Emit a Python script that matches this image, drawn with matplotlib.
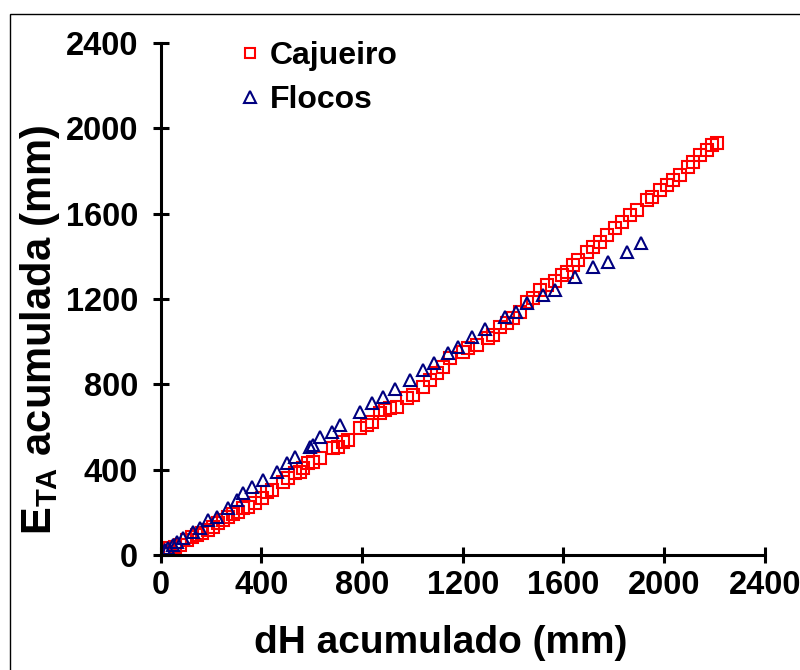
import matplotlib
matplotlib.use("Agg")
import matplotlib.pyplot as plt
from matplotlib.patches import Rectangle

# --- data ---
caj_x = [8, 16, 36, 56, 76, 103, 123, 143, 163, 187, 207, 227, 246, 266, 286,
         306, 326, 346, 374, 401, 421, 441, 485, 505, 533, 552, 564, 584, 604,
         632, 684, 703, 723, 743, 791, 819, 838, 870, 890, 910, 938, 978, 1001,
         1041, 1069, 1097, 1121, 1148, 1200, 1220, 1256, 1299, 1319, 1347, 1375,
         1399, 1427, 1455, 1478, 1506, 1534, 1566, 1594, 1613, 1637, 1657, 1693,
         1717, 1745, 1772, 1804, 1832, 1864, 1892, 1931, 1951, 1983, 2011, 2035,
         2063, 2094, 2114, 2142, 2170, 2190, 2210]
caj_y = [5, 14, 33, 38, 47, 70, 84, 94, 103, 117, 131, 150, 164, 178, 192,
         202, 220, 225, 244, 267, 295, 305, 342, 361, 384, 389, 408, 431, 436,
         455, 502, 506, 530, 539, 595, 609, 623, 666, 680, 689, 694, 736, 750,
         788, 820, 853, 881, 923, 952, 970, 984, 1017, 1031, 1069, 1088,
         1111, 1139, 1186, 1205, 1242, 1266, 1284, 1313, 1327, 1359, 1383, 1420,
         1444, 1467, 1500, 1533, 1561, 1594, 1617, 1664, 1678, 1711, 1734, 1758,
         1781, 1819, 1842, 1875, 1898, 1922, 1931]

flo_x = [16, 28, 48, 64, 87, 127, 155, 187, 223, 266, 302, 326, 362, 405, 461,
         501, 533, 592, 604, 632, 680, 711, 791, 838, 882, 930, 990, 1041, 1085,
         1141, 1180, 1236, 1288, 1367, 1411, 1455, 1518, 1566, 1645, 1717, 1776,
         1852, 1908]
flo_y = [23, 33, 47, 61, 80, 108, 127, 164, 178, 220, 258, 291, 319, 352, 389,
         431, 459, 506, 516, 553, 577, 609, 670, 713, 741, 778, 820, 867, 900,
         947, 975, 1022, 1059, 1116, 1139, 1181, 1219, 1242, 1303, 1350, 1373,
         1420, 1463]

ticks = [0, 400, 800, 1200, 1600, 2000, 2400]

plt.rcParams['font.family'] = ['Liberation Sans', 'DejaVu Sans']
plt.rcParams['font.weight'] = 'bold'
plt.rcParams['mathtext.fontset'] = 'custom'
plt.rcParams['mathtext.rm'] = 'Liberation Sans:bold'
plt.rcParams['mathtext.bf'] = 'Liberation Sans:bold'

fig = plt.figure(figsize=(8.0, 6.7), dpi=100)
ax = fig.add_axes([0.201, 0.1716, 0.755, 0.7642])

ax.plot(caj_x, caj_y, linestyle='none', marker='s', markersize=8,
        markerfacecolor='none', markeredgecolor='#ff0000', markeredgewidth=1.5,
        label='Cajueiro')
ax.plot(flo_x, flo_y, linestyle='none', marker='^', markersize=9,
        markerfacecolor='none', markeredgecolor='#000080', markeredgewidth=1.5,
        label='Flocos')

ax.set_xlim(0, 2400)
ax.set_ylim(0, 2400)
ax.set_xticks(ticks)
ax.set_yticks(ticks)
ax.set_xticklabels([str(t) for t in ticks])
ax.set_yticklabels([str(t) for t in ticks])

for side in ['top', 'right']:
    ax.spines[side].set_visible(False)
for side in ['left', 'bottom']:
    ax.spines[side].set_linewidth(2.2)
ax.tick_params(direction='inout', length=11, width=2.2, labelsize=23.5)
ax.tick_params(axis='y', pad=11)
ax.tick_params(axis='x', pad=5)

ax.set_xlabel('dH acumulado (mm)', fontsize=28, fontweight='bold', va='center')
ax.xaxis.set_label_coords(0.4636, -0.172)
ax.set_ylabel(r'$\mathrm{E_{TA}}$ acumulada (mm)', fontsize=30,
              fontweight='bold', va='center')
ax.yaxis.set_label_coords(-0.2, 0.44)

leg = ax.legend(loc='upper left', bbox_to_anchor=(0.122, 1.004), frameon=False,
                fontsize=23, handletextpad=0.1, markerscale=0.9,
                labelspacing=0.45, handlelength=1.0, borderpad=0,
                borderaxespad=0)

fig.patches.append(Rectangle((0.0125, -0.05), 1.0, 1.029, transform=fig.transFigure,
                             fill=False, edgecolor='black', linewidth=1.0))

fig.savefig('out.png', dpi=100)
